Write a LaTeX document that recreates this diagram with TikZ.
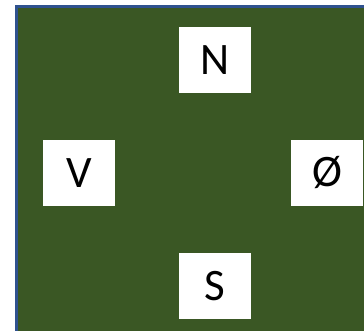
\documentclass[tikz,border=0pt]{standalone}
\usepackage{fontspec}
\setmainfont{Carlito}
\usepackage{tikz}
\usetikzlibrary{positioning}
\definecolor{panelgreen}{HTML}{3A5724}
\definecolor{panelblue}{HTML}{2F528F}
\tikzset{
  panel/.style={draw=panelblue, line width=3pt, fill=panelgreen},
  letterbox/.style={fill=white, inner sep=0pt, minimum width=72pt, minimum height=66pt, align=center, font=\fontsize{45}{54}\selectfont}
}
\begin{document}
\begin{tikzpicture}[x=1pt, y=1pt]
  % Page frame
  \fill[white] (0,0) rectangle (364,330);
  \clip (0,0) rectangle (364,330);

  % Green panel
  \draw[panel] (16.5,323.5) rectangle (370,-6);

  % Letter boxes
  \node[letterbox] (north) at (215,269.5) {N};
  \node[letterbox] (west) at (79,157) {V};
  \node[letterbox] (east) at (327,157) {Ø};
  \node[letterbox] (south) at (215,44) {S};
\end{tikzpicture}
\end{document}
